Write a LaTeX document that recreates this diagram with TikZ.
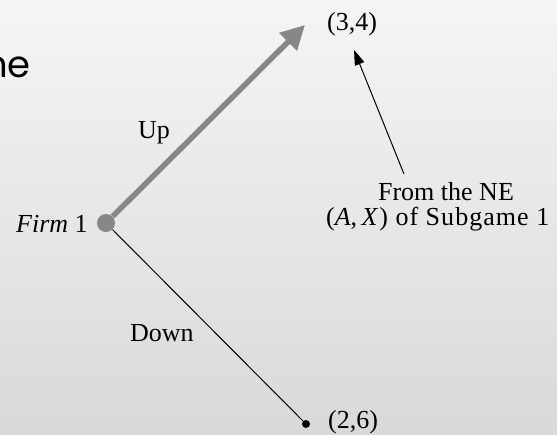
\documentclass[tikz,border=0pt]{standalone}
\usepackage{fontspec}
\setmainfont{Liberation Serif}
\newfontfamily\titlefont{Poppins}
\usetikzlibrary{arrows.meta}
\definecolor{bgtop}{RGB}{245,245,245}
\definecolor{bgbot}{RGB}{217,217,217}
\definecolor{movegray}{RGB}{135,135,135}
\tikzset{
  lbl/.style={inner sep=0pt, font=\fontsize{26}{25}\selectfont},
  decnode/.style={circle, fill=movegray, inner sep=0pt, minimum size=18pt},
  endnode/.style={circle, fill=black, inner sep=0pt, minimum size=8pt},
  eqmove/.style={draw=movegray, line width=5.5pt, -{Triangle[length=24pt,width=24pt]}},
  plainmove/.style={draw=black, line width=1pt},
  note/.style={draw=black, line width=1pt, -{Triangle[length=15pt,width=10pt]}}
}
\begin{document}
\begin{tikzpicture}[x=1pt,y=-1pt]
\shade[top color=bgtop, bottom color=bgbot] (0,0) rectangle (557,434);
\useasboundingbox (0,0) rectangle (557,434);
\clip (0,0) rectangle (557,434);
% title fragment
\node[inner sep=0pt, anchor=base east, font=\titlefont\fontsize{37}{37}\selectfont] (title) at (31,77) {ne};
% nodes
\node[decnode] (f1) at (106,223) {};
\node[endnode] (d) at (306,424) {};
\coordinate (u) at (305,25);
\coordinate (tip) at (354,50);
\coordinate (tail) at (404,174);
% labels
\node[lbl, anchor=base west] (firm) at (16,232) {\textit{Firm} 1};
\node[lbl, anchor=base west] (up) at (138,138) {Up};
\node[lbl, anchor=base west] (down) at (130,341) {Down};
\node[lbl, anchor=base west] (p34) at (327,30) {(3,4)};
\node[lbl, anchor=base west] (p26) at (328,428) {(2,6)};
\node[lbl, anchor=base] (ne) at (446,200) {From the NE};
\node[lbl, anchor=base west] (sg) at (326,225) {\addfontfeatures{LetterSpace=4}(\textit{A},\,\textit{X}) of Subgame 1};
% connectors
\draw[eqmove] (f1) -- (u);
\draw[plainmove] (f1) -- (d);
\draw[note] (tail) -- (tip);
\end{tikzpicture}
\end{document}
